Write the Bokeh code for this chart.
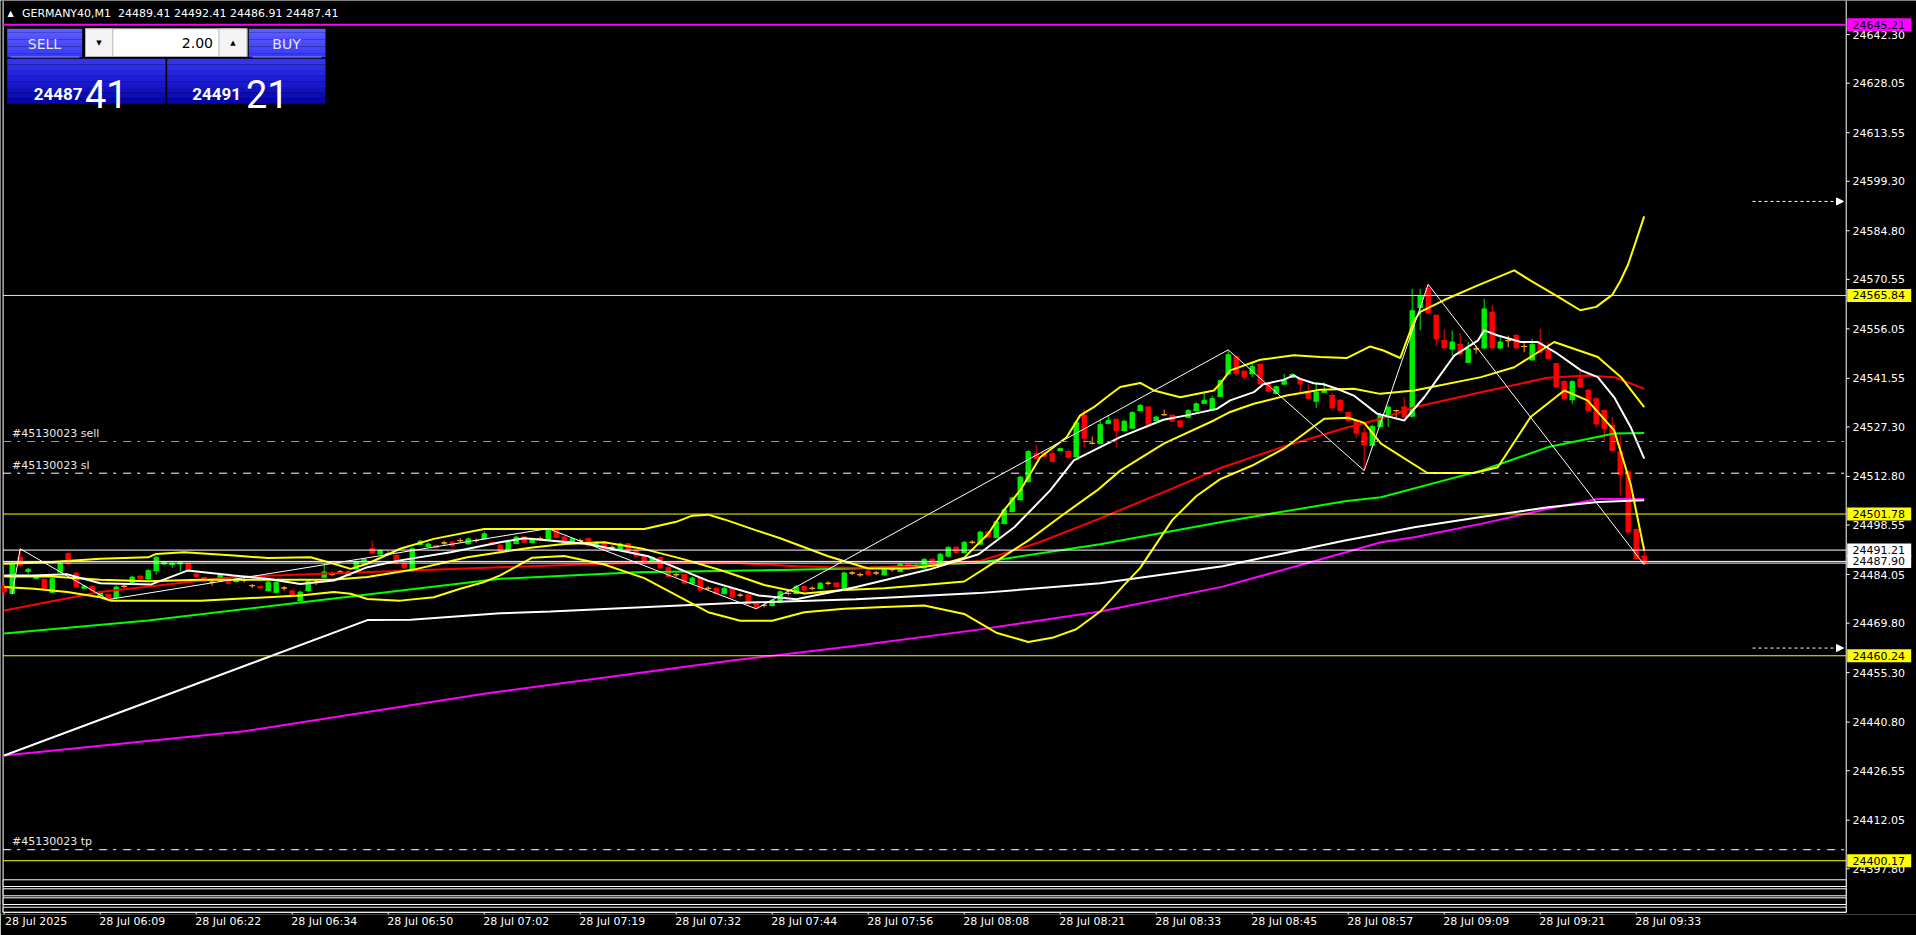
from bokeh.plotting import figure
from bokeh.models import (Range1d, FixedTicker, Label, Arrow, NormalHead, ColumnDataSource)
from bokeh.core.properties import value
from bokeh.embed import file_html
from bokeh.resources import INLINE

# ---------------- data ----------------
symbol_title = "GERMANY40,M1"
title_quote = "24489.41 24492.41 24486.91 24487.41"
lot_text = "2.00"
bid_parts = ["24487", "41"]
ask_parts = ["24491", "21"]

time_ticks = [0, 12, 24, 36, 48, 60, 72, 84, 96, 108, 120, 132, 144, 156, 168, 180, 192, 204]
time_labels = ["28 Jul 2025", "28 Jul 06:09", "28 Jul 06:22", "28 Jul 06:34", "28 Jul 06:50",
               "28 Jul 07:02", "28 Jul 07:19", "28 Jul 07:32", "28 Jul 07:44", "28 Jul 07:56",
               "28 Jul 08:08", "28 Jul 08:21", "28 Jul 08:33", "28 Jul 08:45", "28 Jul 08:57",
               "28 Jul 09:09", "28 Jul 09:21", "28 Jul 09:33"]
price_ticks = [24642.30, 24628.05, 24613.55, 24599.30, 24584.80, 24570.55, 24556.05, 24541.55,
               24527.30, 24512.80, 24498.55, 24484.05, 24469.80, 24455.30, 24440.80, 24426.55,
               24412.05, 24397.80]

open_ = [24480.5, 24478.6, 24489.1, 24485.0, 24483.0, 24482.5, 24478.9, 24484.8, 24490.1, 24484.4,
         24480.1, 24480.5, 24477.9, 24478.2, 24477.4, 24480.6, 24481.3, 24483.5, 24482.8, 24485.2,
         24487.2, 24487.0, 24487.2, 24487.2, 24484.1, 24483.1, 24481.8, 24482.5, 24482.5, 24482.0,
         24482.4, 24480.8, 24480.5, 24479.4, 24478.9, 24480.1, 24479.2, 24476.4, 24479.4, 24481.8,
         24483.3, 24484.1, 24484.8, 24483.8, 24485.7, 24487.8, 24491.6, 24490.1, 24490.1, 24489.6,
         24487.2, 24485.2, 24492.9, 24492.3, 24492.5, 24493.3, 24493.5, 24494.0, 24493.1, 24494.0,
         24494.5, 24493.4, 24492.6, 24491.1, 24493.2, 24495.0, 24493.5, 24494.5, 24494.3, 24497.0,
         24495.0, 24493.2, 24494.0, 24494.5, 24492.5, 24493.5, 24492.0, 24491.5, 24493.0, 24491.0,
         24489.5, 24487.5, 24489.0, 24486.0, 24484.0, 24484.0, 24481.5, 24483.0, 24480.0, 24480.0,
         24478.5, 24480.0, 24478.0, 24478.0, 24475.5, 24475.0, 24475.0, 24476.0, 24478.5, 24478.5,
         24480.5, 24480.0, 24480.0, 24481.5, 24481.5, 24480.0, 24484.5, 24484.0, 24485.0, 24484.5,
         24484.0, 24485.5, 24485.0, 24487.0, 24486.5, 24486.0, 24488.5, 24487.5, 24489.5, 24492.0,
         24490.5, 24493.5, 24493.0, 24496.5, 24495.0, 24499.0, 24502.5, 24506.0, 24511.3, 24519.4,
         24519.6, 24519.4, 24520.4, 24520.1, 24518.6, 24530.7, 24522.5, 24522.5, 24528.4, 24529.5,
         24526.3, 24527.0, 24532.1, 24533.1, 24529.2, 24530.9, 24530.7, 24529.0, 24530.2, 24532.1,
         24534.3, 24532.3, 24536.3, 24542.9, 24547.8, 24543.6, 24542.9, 24545.6, 24539.9, 24537.2,
         24539.9, 24541.9, 24541.4, 24537.7, 24534.9, 24537.5, 24536.5, 24535.1, 24531.5, 24529.2,
         24525.5, 24522.0, 24527.5, 24530.2, 24532.1, 24533.1, 24530.5, 24562.4, 24567.8, 24560.0,
         24552.6, 24550.2, 24551.5, 24546.3, 24550.2, 24550.5, 24560.9, 24550.5, 24552.6, 24554.1,
         24550.9, 24547.0, 24551.9, 24549.9, 24545.8, 24540.6, 24535.3, 24541.4, 24538.0, 24535.5,
         24532.1, 24527.7, 24519.9, 24514.1, 24497.2, 24489.41]
high_ = [24481.5, 24488.0, 24491.6, 24486.0, 24483.8, 24482.9, 24483.2, 24487.8, 24490.5, 24484.8,
         24481.0, 24480.9, 24479.3, 24478.5, 24480.8, 24481.0, 24483.7, 24484.0, 24485.6, 24489.5,
         24488.0, 24487.6, 24487.8, 24487.6, 24484.5, 24483.5, 24482.3, 24484.5, 24482.9, 24483.0,
         24482.9, 24481.3, 24480.8, 24482.2, 24482.2, 24480.6, 24479.5, 24479.3, 24482.5, 24482.6,
         24487.2, 24484.8, 24485.4, 24485.2, 24488.1, 24488.9, 24494.0, 24491.5, 24490.9, 24490.0,
         24487.6, 24492.0, 24494.2, 24493.4, 24492.9, 24494.0, 24493.9, 24494.7, 24494.9, 24494.6,
         24496.7, 24493.8, 24493.0, 24493.8, 24495.4, 24495.3, 24494.9, 24495.2, 24497.5, 24497.3,
         24495.4, 24494.9, 24494.6, 24494.9, 24493.9, 24493.8, 24492.6, 24493.4, 24493.3, 24491.4,
         24489.9, 24489.4, 24489.3, 24486.4, 24484.6, 24484.3, 24483.4, 24483.3, 24480.6, 24480.3,
         24480.4, 24480.3, 24478.6, 24478.3, 24475.9, 24475.6, 24476.9, 24479.4, 24479.1, 24480.9,
         24480.8, 24480.6, 24481.9, 24482.1, 24481.8, 24484.9, 24485.1, 24484.6, 24485.3, 24485.1,
         24485.9, 24486.1, 24487.4, 24487.3, 24487.1, 24488.9, 24488.8, 24490.4, 24492.4, 24492.3,
         24493.9, 24494.1, 24496.9, 24496.8, 24499.9, 24503.4, 24506.9, 24513.0, 24520.5, 24522.1,
         24520.0, 24520.4, 24521.3, 24520.7, 24528.9, 24532.6, 24524.5, 24529.5, 24530.7, 24529.8,
         24529.4, 24531.9, 24534.0, 24533.4, 24530.6, 24532.4, 24531.0, 24529.3, 24532.5, 24534.5,
         24537.2, 24536.5, 24541.3, 24549.9, 24548.3, 24543.9, 24546.0, 24545.9, 24540.2, 24539.4,
         24542.9, 24543.0, 24541.7, 24539.9, 24540.4, 24540.4, 24537.2, 24535.4, 24531.8, 24529.5,
         24527.0, 24528.0, 24531.5, 24533.6, 24532.3, 24536.0, 24567.8, 24567.8, 24569.1, 24560.2,
         24555.8, 24555.6, 24554.8, 24552.2, 24551.2, 24564.9, 24562.9, 24553.6, 24554.1, 24554.6,
         24552.2, 24553.1, 24556.1, 24552.2, 24546.0, 24541.0, 24541.0, 24544.3, 24538.5, 24536.0,
         24532.3, 24530.2, 24525.3, 24514.5, 24497.5, 24492.41]
low_ = [24478.0, 24478.3, 24486.3, 24484.2, 24482.6, 24479.6, 24478.5, 24484.5, 24486.9, 24480.1,
        24479.8, 24479.0, 24477.5, 24476.7, 24477.0, 24480.0, 24481.0, 24482.5, 24482.4, 24484.0,
        24486.8, 24486.0, 24485.0, 24484.9, 24483.2, 24481.8, 24480.8, 24482.2, 24481.2, 24481.6,
        24481.7, 24480.0, 24480.0, 24479.0, 24478.5, 24479.3, 24477.6, 24476.0, 24479.0, 24481.0,
        24483.0, 24483.5, 24484.2, 24483.5, 24485.3, 24487.4, 24490.0, 24489.8, 24489.4, 24487.0,
        24485.7, 24484.8, 24492.6, 24492.0, 24491.7, 24492.6, 24492.2, 24493.3, 24492.7, 24493.4,
        24494.2, 24492.5, 24490.8, 24490.8, 24492.9, 24493.2, 24493.1, 24494.0, 24494.0, 24494.7,
        24493.2, 24492.9, 24493.4, 24492.2, 24492.1, 24491.2, 24491.4, 24491.2, 24490.7, 24489.2,
        24487.2, 24487.2, 24485.7, 24483.2, 24483.3, 24481.2, 24481.2, 24479.2, 24479.4, 24478.2,
        24478.2, 24477.2, 24477.4, 24475.2, 24474.0, 24474.4, 24474.7, 24475.7, 24477.9, 24478.2,
        24479.2, 24479.4, 24479.7, 24480.9, 24480.2, 24479.7, 24483.9, 24483.4, 24483.7, 24483.9,
        24483.7, 24484.9, 24484.7, 24485.7, 24485.9, 24485.7, 24487.2, 24487.2, 24489.2, 24490.2,
        24490.2, 24492.9, 24492.7, 24494.7, 24494.7, 24498.7, 24502.2, 24505.7, 24511.0, 24517.8,
        24518.4, 24517.0, 24520.1, 24518.1, 24518.3, 24521.4, 24522.2, 24522.2, 24528.1, 24521.4,
        24526.0, 24526.7, 24531.8, 24527.7, 24528.9, 24530.6, 24528.7, 24527.2, 24529.9, 24531.8,
        24534.0, 24532.0, 24536.0, 24542.6, 24542.3, 24541.1, 24541.9, 24539.6, 24537.5, 24536.9,
        24539.6, 24541.6, 24537.5, 24535.4, 24532.9, 24537.2, 24532.6, 24531.8, 24528.9, 24524.0,
        24514.5, 24521.0, 24527.0, 24527.3, 24529.7, 24529.9, 24530.0, 24555.6, 24560.5, 24551.2,
        24550.0, 24548.2, 24548.0, 24546.0, 24548.8, 24550.0, 24550.0, 24550.0, 24550.7, 24550.0,
        24549.2, 24546.8, 24549.0, 24547.0, 24538.8, 24535.0, 24534.1, 24538.8, 24531.8, 24527.0,
        24522.9, 24520.0, 24507.2, 24496.0, 24488.5, 24486.91]
close_ = [24479.0, 24487.2, 24486.7, 24485.6, 24483.5, 24479.9, 24482.8, 24487.4, 24487.2, 24480.4,
          24480.7, 24479.3, 24478.9, 24476.9, 24480.4, 24480.6, 24483.3, 24482.8, 24485.2, 24489.1,
          24487.6, 24487.3, 24487.5, 24485.2, 24483.5, 24482.1, 24481.8, 24484.1, 24481.5, 24482.7,
          24482.4, 24480.8, 24480.1, 24481.8, 24481.8, 24480.1, 24477.9, 24478.9, 24482.1, 24481.8,
          24484.8, 24484.1, 24484.8, 24484.8, 24487.7, 24488.5, 24490.3, 24491.1, 24490.1, 24487.4,
          24486.0, 24491.6, 24493.8, 24493.0, 24492.0, 24493.3, 24492.5, 24494.0, 24494.5, 24494.0,
          24496.0, 24492.9, 24491.1, 24493.5, 24495.0, 24493.5, 24494.5, 24494.5, 24497.0, 24495.0,
          24493.5, 24494.5, 24494.0, 24492.5, 24493.5, 24491.5, 24492.0, 24493.0, 24491.0, 24489.5,
          24487.5, 24489.0, 24486.0, 24483.5, 24484.0, 24481.5, 24483.0, 24479.5, 24480.0, 24478.5,
          24480.0, 24477.5, 24478.0, 24475.5, 24474.3, 24475.0, 24476.5, 24479.0, 24478.5, 24480.5,
          24479.5, 24480.0, 24481.5, 24481.5, 24480.5, 24484.5, 24484.5, 24484.0, 24484.0, 24484.5,
          24485.5, 24485.5, 24487.0, 24486.0, 24486.5, 24488.5, 24487.5, 24490.0, 24492.0, 24490.5,
          24493.5, 24493.5, 24496.5, 24495.0, 24499.5, 24503.0, 24506.5, 24512.6, 24520.1, 24518.0,
          24518.7, 24517.2, 24521.0, 24518.4, 24528.6, 24524.0, 24522.5, 24528.0, 24529.2, 24526.3,
          24529.0, 24531.5, 24533.6, 24528.0, 24530.2, 24530.9, 24529.0, 24527.5, 24532.1, 24534.1,
          24535.1, 24535.6, 24540.9, 24548.5, 24542.9, 24541.9, 24545.0, 24539.9, 24537.8, 24539.1,
          24540.9, 24542.7, 24539.9, 24535.7, 24537.5, 24537.9, 24532.9, 24532.1, 24529.2, 24525.5,
          24522.0, 24527.5, 24530.9, 24533.1, 24532.1, 24530.2, 24561.4, 24565.8, 24560.7, 24553.1,
          24550.5, 24552.2, 24548.7, 24550.2, 24550.2, 24561.9, 24550.5, 24552.2, 24552.6, 24550.5,
          24550.9, 24551.5, 24549.2, 24547.3, 24539.0, 24535.6, 24540.6, 24539.0, 24532.1, 24528.2,
          24526.8, 24520.4, 24513.4, 24496.5, 24488.7, 24487.41]

# indicator lines (bar, price)
bb_up_x = [0, 6, 12, 18, 19, 22.5, 28.7, 33, 38.3, 41.2, 43.3, 45.4, 49.5, 53.7, 60, 62, 70, 80,
           84, 86, 88, 90, 94, 97, 103, 108, 113, 117, 120, 123, 125, 127, 129.5, 132.8, 134.5,
           136.2, 137.8, 139.5, 142, 143.7, 147, 151.2, 152, 153.25, 157, 161.2, 164.5, 167.8,
           170.75, 172.4, 174.5, 176.25, 177, 180, 184.2, 188.75, 190.8, 194, 197, 199, 201, 202,
           203, 204, 205]
bb_up_y = [24487.2, 24487.7, 24488.7, 24489.1, 24490.1, 24490.6, 24489.6, 24488.9, 24489.1, 24487.2,
           24485.7, 24487.2, 24491.6, 24494.5, 24497.4, 24497.4, 24497.4, 24497.4, 24499.5, 24501.3,
           24501.6, 24500.2, 24497.0, 24494.7, 24489.4, 24485.8, 24485.8, 24486.9, 24489.0, 24496.0,
           24503.0, 24508.7, 24518.4, 24524.3, 24530.7, 24533.1, 24536.0, 24539.0, 24540.2, 24538.0,
           24536.0, 24538.0, 24540.0, 24543.9, 24547.0, 24548.3, 24547.8, 24547.5, 24550.9, 24549.7,
           24547.5, 24558.5, 24561.0, 24564.5, 24568.8, 24573.2, 24570.2, 24565.8, 24561.5, 24562.5,
           24566.0, 24570.0, 24575.0, 24582.0, 24589.0]
bb_mid_x = [0, 6, 12, 18, 24.5, 33, 41, 45.4, 51.6, 57.9, 62, 66, 70, 75, 80, 85, 90, 95, 100, 105,
            110, 115, 120, 124, 128, 132, 136.6, 139.5, 145, 151.2, 153.25, 156.2, 160.3, 164.5,
            168.7, 172, 176.25, 184.6, 188.75, 193.75, 199.2, 202.1, 205]
bb_mid_y = [24483.5, 24483.5, 24482.5, 24482.1, 24482.5, 24482.5, 24482.5, 24483.3, 24485.7, 24489.1,
            24490.6, 24492.0, 24493.0, 24493.5, 24491.5, 24488.5, 24485.0, 24481.0, 24478.5, 24479.5,
            24480.0, 24481.0, 24482.0, 24488.0, 24494.0, 24501.0, 24508.7, 24514.5, 24522.5, 24529.2,
            24531.7, 24534.1, 24536.5, 24538.2, 24538.5, 24537.0, 24538.0, 24541.9, 24544.8, 24552.2,
            24547.8, 24541.9, 24533.1]
bb_low_x = [0, 3.7, 7.9, 12, 13.3, 24.5, 32.9, 37, 41.2, 43.3, 45.4, 49.5, 53.7, 57, 59.9, 62, 66,
            70, 75, 80, 84, 88, 92, 96, 100, 105, 110, 115, 120, 124, 128, 131, 134, 137, 140, 142,
            146, 149, 152, 156, 160, 165, 168, 170, 172.1, 177.9, 183.75, 186.7, 190.8, 195, 197.9,
            201.25, 203.3, 205]
bb_low_y = [24480.4, 24479.9, 24478.9, 24477.4, 24476.4, 24476.4, 24477.4, 24477.9, 24478.9, 24478.4,
            24476.9, 24476.4, 24477.4, 24479.9, 24481.8, 24483.8, 24489.0, 24489.5, 24487.0, 24483.0,
            24478.0, 24473.0, 24470.5, 24470.5, 24473.0, 24474.0, 24474.5, 24475.0, 24472.5, 24467.0,
            24464.3, 24465.5, 24468.0, 24473.2, 24481.0, 24486.0, 24500.0, 24507.0, 24512.0, 24516.0,
            24521.0, 24529.7, 24530.0, 24528.5, 24522.4, 24513.8, 24513.8, 24515.5, 24530.2, 24538.0,
            24535.1, 24526.3, 24510.6, 24491.1]
ma_fast_x = [0, 3.7, 7.9, 12, 18.3, 22.9, 28.7, 32.9, 37, 41.2, 45.4, 49.5, 55.8, 62, 65, 73, 80.5,
             88, 94.3, 99, 106.5, 115.6, 121.8, 126.3, 130.75, 133.7, 139.5, 144.9, 147.8, 151.6,
             153.25, 156.2, 157.4, 159.9, 161.2, 162, 163.7, 164.9, 166.6, 168.7, 170.3, 171.6, 175,
             177.5, 181.25, 184.2, 185, 186.7, 189.6, 191.7, 194.2, 197.1, 199.2, 201.25, 203.3, 205]
ma_fast_y = [24483.8, 24483.8, 24484.1, 24481.5, 24481.1, 24485.2, 24483.8, 24482.8, 24481.3, 24482.3,
             24486.2, 24488.2, 24490.6, 24493.5, 24494.7, 24493.0, 24489.4, 24482.2, 24477.9, 24476.8,
             24480.4, 24485.5, 24490.0, 24498.0, 24508.7, 24517.5, 24524.3, 24529.4, 24530.7, 24532.6,
             24535.1, 24537.5, 24539.8, 24541.1, 24542.4, 24541.4, 24540.1, 24539.8, 24538.5, 24536.5,
             24533.6, 24531.2, 24529.2, 24536.0, 24548.2, 24552.6, 24555.6, 24554.1, 24552.2, 24552.2,
             24548.7, 24543.9, 24541.9, 24536.0, 24527.3, 24518.0]
ma_red_x = [0, 12, 28.7, 62, 79, 91, 99, 106.5, 114, 122, 129.4, 137, 144.7, 152.3, 160, 167.6,
            172.1, 176.25, 184.6, 192.9, 197.9, 201.25, 205]
ma_red_y = [24473.5, 24478.9, 24483.3, 24486.2, 24487.5, 24487.5, 24486.5, 24486.0, 24486.3, 24488.0,
            24493.5, 24500.5, 24508.0, 24515.5, 24521.6, 24527.0, 24529.7, 24533.1, 24537.5, 24541.7,
            24542.4, 24541.9, 24538.5]
ma_green_x = [0, 18, 62, 79, 97, 106.5, 122, 137, 152, 167.6, 172.1, 184.6, 193, 201.25, 205]
ma_green_y = [24466.8, 24470.6, 24482.8, 24484.7, 24485.4, 24485.8, 24487.6, 24492.9, 24499.4,
              24505.5, 24506.7, 24514.5, 24521.4, 24525.4, 24525.5]
ma_slow_x = [0, 45.4, 50.8, 62, 68.3, 91.2, 106.5, 121.8, 137, 152.3, 167.6, 172.1, 176.25, 184.6,
             193, 199.2, 205]
ma_slow_y = [24431.0, 24470.7, 24470.8, 24472.7, 24473.2, 24475.7, 24476.8, 24478.6, 24481.5,
             24486.5, 24494.0, 24496.0, 24497.9, 24500.9, 24503.8, 24505.3, 24505.8]
ma_magenta_x = [0, 30, 60.6, 91.2, 106.5, 121.8, 137, 152.3, 167.6, 172.1, 176.25, 184.6, 193,
                199.2, 205]
ma_magenta_y = [24431.0, 24438.1, 24449.3, 24458.9, 24463.2, 24467.9, 24473.2, 24480.5, 24490.5,
                24493.5, 24495.0, 24498.9, 24503.3, 24506.2, 24506.2]
zigzag_x = [1, 2, 13, 68, 94, 153, 170, 178, 205]
zigzag_y = [24478.3, 24491.6, 24476.7, 24497.5, 24474.0, 24549.9, 24514.5, 24569.1, 24486.91]

# horizontal objects
level_prices = [24645.21, 24565.84, 24523.04, 24513.75, 24501.78, 24491.21, 24487.90, 24487.41,
                24460.24, 24403.40, 24400.17]
level_colors = ["#ff00ff", "#ffff00", "#00ff00", "#ffffff", "#ffff00", "#ffffff", "#ffffff",
                "#ffffff", "#ffff00", "#ffffff", "#ffff00"]
level_dash = ["solid", "solid", "8 6 3 7", "8 6 3 7", "solid", "solid", "solid", "solid",
              "solid", "8 6 3 7", "solid"]
level_width = [2, 1, 1, 1, 1, 1, 1, 1, 1, 1, 1]
tag_prices = [24645.21, 24565.84, 24501.78, 24491.21, 24487.90, 24460.24, 24400.17]
tag_colors = ["#ff00ff", "#ffff00", "#ffff00", "#ffffff", "#ffffff", "#ffff00", "#ffff00"]
order_labels = ["#45130023 sell", "#45130023 sl", "#45130023 tp"]
order_prices = [24523.04, 24513.75, 24403.40]
arrow_levels = [24593.4, 24462.5]

# ---------------- layout helpers (reference pixel -> data) ----------------
PX_PER_BAR = 8.0
X0_PX = 3.7
PX_PER_PT = 3.412
REF_PY = 82.7
REF_PRICE = 24628.05


def bx(px):
    return (px - X0_PX) / PX_PER_BAR


def by(py):
    return REF_PRICE - (py - REF_PY) / PX_PER_PT


def ppx(price):
    return REF_PY + (REF_PRICE - price) * PX_PER_PT


FONT = "DejaVu Sans"
AXIS_X = 1845.7      # reference pixel of the price-scale line
LEFT_X = 2.6

p = figure(frame_width=1916, frame_height=914,
           x_range=Range1d(bx(0), bx(1916)), y_range=Range1d(by(914), by(0)),
           output_backend="svg", toolbar_location=None, y_axis_location=None,
           background_fill_color="black", border_fill_color="black",
           min_border_left=0, min_border_top=0, min_border_right=0, min_border_bottom=21)
p.outline_line_color = None
p.xgrid.visible = False
p.ygrid.visible = False

# time axis: labels left-aligned at their tick (label anchor half a label to the right)
label_anchor = [t + 4 for t in time_ticks]
xa = p.xaxis[0]
xa.ticker = FixedTicker(ticks=label_anchor)
xa.major_label_overrides = {a: s for a, s in zip(label_anchor, time_labels)}
xa.axis_line_color = None
xa.major_tick_line_color = None
xa.major_tick_in = 0
xa.major_tick_out = 0
xa.minor_tick_line_color = None
xa.major_label_text_color = "white"
xa.major_label_text_font = FONT
xa.major_label_text_font_size = "11px"
xa.major_label_standoff = 0

# frame lines: left border, price-scale line, time-scale line, tick marks
p.segment(x0=[bx(LEFT_X), bx(AXIS_X)], y0=[by(0), by(0)], x1=[bx(LEFT_X), bx(AXIS_X)],
          y1=[by(912), by(912)], line_color="white", line_width=1)
p.segment(x0=[bx(LEFT_X)], y0=[by(912)], x1=[bx(AXIS_X)], y1=[by(912)], line_color="white")
p.segment(x0=time_ticks, y0=[by(912)] * len(time_ticks), x1=time_ticks,
          y1=[by(916)] * len(time_ticks), line_color="white", line_width=1)

# ---------------- candles ----------------
bars = list(range(len(open_)))
BULL, BEAR, DOJI = "#00ee00", "#ff0000", "#ffa31a"
colors = [BULL if c > o else (BEAR if c < o else DOJI) for o, c in zip(open_, close_)]
src = ColumnDataSource(dict(x=bars, o=open_, h=high_, l=low_, c=close_, col=colors,
                            top=[max(o, c) for o, c in zip(open_, close_)],
                            bot=[min(o, c) for o, c in zip(open_, close_)]))
p.segment(x0="x", y0="l", x1="x", y1="h", line_color="col", line_width=1, source=src)
p.vbar(x="x", width=0.55, top="top", bottom="bot", fill_color="col", line_color="col",
       line_width=1, source=src)
p.scatter(x="x", y="o", marker="dash", size=6, line_color="col", line_width=1, source=src)

# ---------------- indicators ----------------
p.line(ma_magenta_x, ma_magenta_y, line_color="#ff00ff", line_width=2)
p.line(ma_slow_x, ma_slow_y, line_color="#ffffff", line_width=2)
p.line(ma_green_x, ma_green_y, line_color="#00ff00", line_width=2)
p.line(ma_red_x, ma_red_y, line_color="#ff0000", line_width=2)
p.line(bb_low_x, bb_low_y, line_color="#ffff00", line_width=2)
p.line(bb_mid_x, bb_mid_y, line_color="#ffff00", line_width=2)
p.line(bb_up_x, bb_up_y, line_color="#ffff00", line_width=2)
p.line(ma_fast_x, ma_fast_y, line_color="#ffffff", line_width=2)
p.line(zigzag_x, zigzag_y, line_color="#ffffff", line_width=1)

# ---------------- horizontal objects ----------------
for lv, col, dash, w in zip(level_prices, level_colors, level_dash, level_width):
    p.segment(x0=[bx(LEFT_X)], y0=[lv], x1=[bx(AXIS_X)], y1=[lv], line_color=col,
              line_width=w, line_dash=dash)

for lv in arrow_levels:
    p.add_layout(Arrow(x_start=bx(1752), y_start=lv, x_end=bx(1843), y_end=lv,
                       line_color="white", line_width=1, line_dash="3 3",
                       end=NormalHead(size=7, fill_color="white", line_color="white")))

for txt, lv in zip(order_labels, order_prices):
    p.add_layout(Label(x=bx(11.5), y=by(ppx(lv) - 1.5), text=txt, text_align="left",
                       text_baseline="bottom", text_color="#e8e8e8", text_font=FONT,
                       text_font_size="11px"))

# sub-window frames below the main chart
sub_tops = [879.3, 888.3, 897.3, 906.7]
sub_bots = [886.0, 895.3, 904.0, 911.7]
p.quad(left=[bx(LEFT_X)] * 4, right=[bx(AXIS_X)] * 4, top=[by(t) for t in sub_tops],
       bottom=[by(b) for b in sub_bots], fill_color="black", line_color="white", line_width=1)

# ---------------- price scale ----------------
p.segment(x0=[bx(AXIS_X)] * len(price_ticks), y0=price_ticks,
          x1=[bx(AXIS_X + 3.5)] * len(price_ticks), y1=price_ticks, line_color="white")
p.text(x=[bx(1852)] * len(price_ticks), y=price_ticks, text=["%.2f" % v for v in price_ticks],
       text_align="left", text_baseline="middle", text_color="white",
       text_font=value(FONT), text_font_size="11px")
p.quad(left=[bx(AXIS_X + 1)] * len(tag_prices), right=[bx(1910.7)] * len(tag_prices),
       top=[by(ppx(v) - 6.5) for v in tag_prices], bottom=[by(ppx(v) + 6.5) for v in tag_prices],
       fill_color=tag_colors, line_color=None)
p.text(x=[bx(1852)] * len(tag_prices), y=tag_prices, text=["%.2f" % v for v in tag_prices],
       text_align="left", text_baseline="middle", text_color="black",
       text_font=value(FONT), text_font_size="11px")

# ---------------- title & trade panel ----------------
p.add_layout(Label(x=bx(7), y=by(13), text="\u25b2", text_align="left", text_baseline="middle",
                   text_color="white", text_font=FONT, text_font_size="8px"))
p.add_layout(Label(x=bx(21.5), y=by(12.5), text=symbol_title + "\u00a0\u00a0" + title_quote,
                   text_align="left", text_baseline="middle", text_color="white",
                   text_font=FONT, text_font_size="11px"))


def gradient_box(x0, x1, y0, y1, c_top, c_bot, n=8):
    def hx(c):
        return [int(c[i:i + 2], 16) for i in (1, 3, 5)]
    a, b = hx(c_top), hx(c_bot)
    lefts, rights, tops, bots, cols = [], [], [], [], []
    for k in range(n):
        t = k / (n - 1)
        rgb = [round(a[j] + (b[j] - a[j]) * t) for j in range(3)]
        cols.append("#%02x%02x%02x" % tuple(rgb))
        lefts.append(bx(x0))
        rights.append(bx(x1))
        tops.append(by(y0 + (y1 - y0) * k / n))
        bots.append(by(y0 + (y1 - y0) * (k + 1) / n))
    p.quad(left=lefts, right=rights, top=tops, bottom=bots, fill_color=cols, line_color=None)


gradient_box(6.7, 81.7, 28.3, 56.7, "#5c5cff", "#3a3af6")
gradient_box(248.3, 325, 28.3, 56.7, "#5c5cff", "#3a3af6")
gradient_box(6.7, 165, 58.3, 103.3, "#3434ec", "#0404b0")
gradient_box(166.7, 325, 58.3, 103.3, "#3434ec", "#0404b0")
p.segment(x0=[bx(10), bx(252)], y0=[by(56.5)] * 2, x1=[bx(79), bx(321)], y1=[by(56.5)] * 2,
          line_color="#8c8cff", line_width=1)
p.quad(left=[bx(85)], right=[bx(246.5)], top=[by(28.3)], bottom=[by(56)],
       fill_color="white", line_color="#b4b4b4", line_width=1)
p.quad(left=[bx(85), bx(218.5)], right=[bx(112.3), bx(246.5)], top=[by(28.3)] * 2,
       bottom=[by(56)] * 2, fill_color="#f4f4f4", line_color="#b4b4b4", line_width=1)

panel_texts = [
    ("SELL", 44, 43, "center", "#e4e4ff", "14px", "normal"),
    ("\u25bc", 98.5, 42, "center", "black", "7px", "normal"),
    (lot_text, 212.5, 42.5, "right", "black", "14px", "normal"),
    ("\u25b2", 232.5, 42, "center", "black", "7px", "normal"),
    ("BUY", 286, 43, "center", "#e4e4ff", "14px", "normal"),
]
for txt, xx, yy, al, col, fs, st in panel_texts:
    p.add_layout(Label(x=bx(xx), y=by(yy), text=txt, text_align=al, text_baseline="middle",
                       text_color=col, text_font=FONT, text_font_size=fs, text_font_style=st))

big_texts = [
    (bid_parts[0], 82, "right", "17px", "bold"),
    (bid_parts[1], 84.5, "left", "38px", "normal"),
    (ask_parts[0], 240.5, "right", "17px", "bold"),
    (ask_parts[1], 245.5, "left", "38px", "normal"),
]
for txt, xx, al, fs, st in big_texts:
    p.add_layout(Label(x=bx(xx), y=by(93.5), text=txt, text_align=al, text_baseline="alphabetic",
                       text_color="white", text_font="Roboto", text_font_size=fs,
                       text_font_style=st))

open("out.html", "w").write(file_html(p, INLINE))
